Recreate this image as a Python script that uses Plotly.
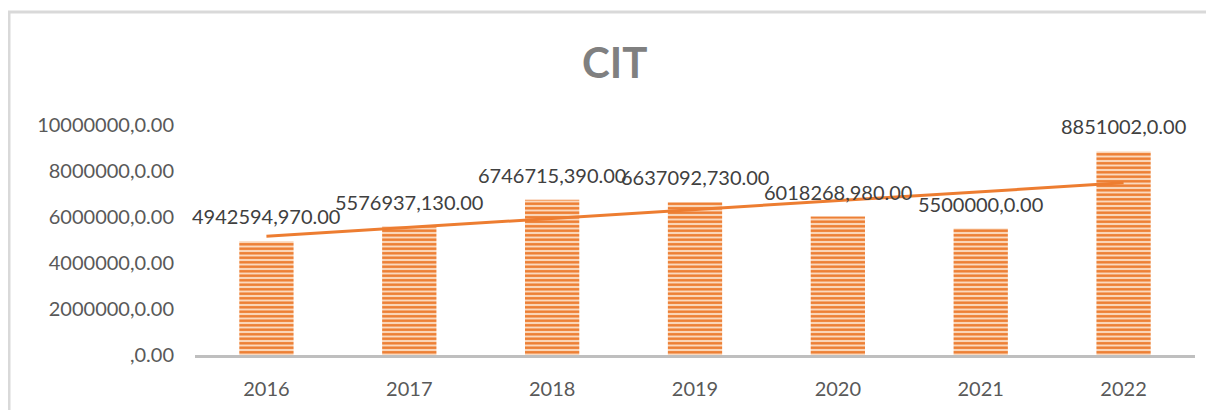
import numpy as np
import plotly.graph_objects as go

years = ["2016", "2017", "2018", "2019", "2020", "2021", "2022"]
cit = [4942594.97, 5576937.13, 6746715.39, 6637092.73, 6018268.98, 5500000.0, 8851002.0]
cit_labels = ["4942594,970.00", "5576937,130.00", "6746715,390.00", "6637092,730.00",
              "6018268,980.00", "5500000,0.00", "8851002,0.00"]
y_ticks = [0, 2000000, 4000000, 6000000, 8000000, 10000000]
y_tick_labels = [",0.00", "2000000,0.00", "4000000,0.00", "6000000,0.00",
                 "8000000,0.00", "10000000,0.00"]

# linear trendline, same as the spreadsheet's
idx = np.arange(len(cit))
slope, intercept = np.polyfit(idx, cit, 1)
trend = slope * idx + intercept

ORANGE = "#ED7D31"
FONT = "Lato"

fig = go.Figure()

fig.add_trace(
    go.Bar(
        x=years,
        y=cit,
        marker=dict(
            color="#f8c8a2",
            line=dict(width=0),
            pattern=dict(shape="-", fgcolor=ORANGE, bgcolor="#fbd9be",
                         fgopacity=1, size=4.5, solidity=0.55, fillmode="replace"),
        ),
        showlegend=False,
    )
)

fig.add_trace(
    go.Scatter(
        x=years,
        y=trend,
        mode="lines",
        line=dict(color=ORANGE, width=3),
        showlegend=False,
    )
)

# data labels (category index positions)
for i, (v, lab) in enumerate(zip(cit, cit_labels)):
    fig.add_annotation(
        x=i, y=v, text=lab, showarrow=False,
        yanchor="middle", yshift=25,
        font=dict(family=FONT, size=20, color="#404040"),
    )

# chart title, centred on the whole chart area
fig.add_annotation(
    x=0.419, y=1.274, xref="paper", yref="paper", text="<b>CIT</b>",
    showarrow=False, xanchor="center", yanchor="middle",
    font=dict(family=FONT, size=42, color="#808080"),
)

# chart area frame
fig.add_shape(
    type="rect", xref="paper", yref="paper",
    x0=-0.186, x1=1.04, y0=-0.35, y1=1.491,
    line=dict(color="#d9d9d9", width=3),
)

fig.update_layout(
    width=1214,
    height=410,
    bargap=0.62,
    plot_bgcolor="white",
    paper_bgcolor="white",
    margin=dict(l=187, r=27, t=117, b=63),
    font=dict(family=FONT, size=20, color="#595959"),
)
fig.update_xaxes(
    type="category",
    range=[-0.5, 6.5],
    showline=True, linecolor="#bfbfbf", linewidth=3,
    showgrid=False, ticks="", ticklabelstandoff=14,
    tickfont=dict(family=FONT, size=20, color="#595959"),
)
fig.update_yaxes(
    range=[0, 10000000],
    tickvals=y_ticks, ticktext=y_tick_labels,
    showgrid=False, zeroline=False, showline=False,
    ticks="", ticklabelstandoff=20,
    tickfont=dict(family=FONT, size=20, color="#595959"),
)

fig.write_html("out.html")
